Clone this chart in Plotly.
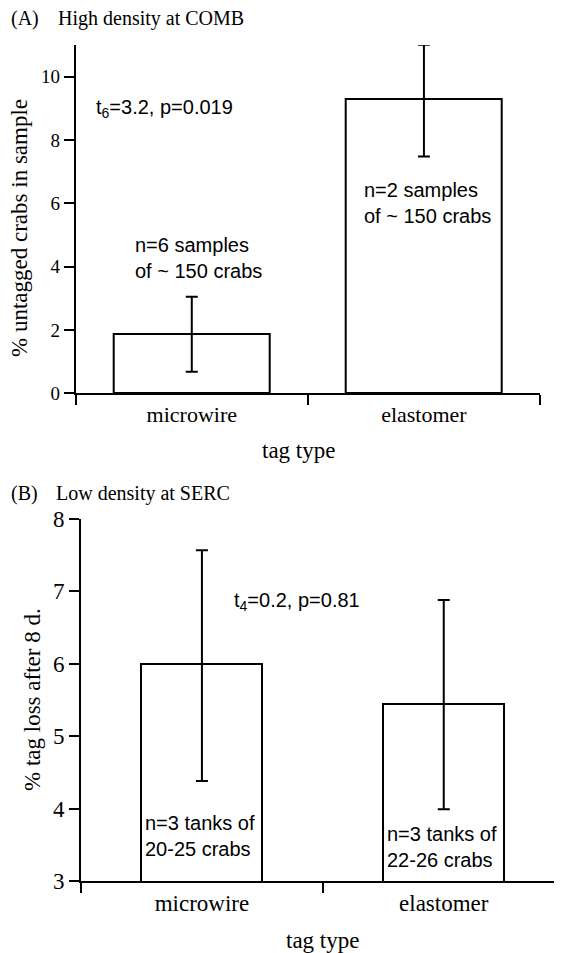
import plotly.graph_objects as go

# The page body adds an 8px margin, so the figure is drawn at (8, 8);
# reference pixel positions are converted to figure coordinates below.
OFF = 8
W, H = 562 - OFF, 953 - OFF

categories = ["microwire", "elastomer"]

# Panel A: % untagged crabs in sample
a_means = [1.88, 9.29]
a_err_plus = [1.17, 1.72]
a_err_minus = [1.20, 1.81]
a_yticks = [0, 2, 4, 6, 8, 10]

# Panel B: % tag loss after 8 d.
b_means = [6.0, 5.44]
b_err_plus = [1.57, 1.44]
b_err_minus = [1.62, 1.45]
b_yticks = [3, 4, 5, 6, 7, 8]

SERIF = "Liberation Serif, Times New Roman, serif"
SANS = "Liberation Sans, Arial, sans-serif"


def px(x, y):
    return (x - OFF) / W, 1 - (y - OFF) / H


fig = go.Figure()

fig.add_trace(go.Bar(
    x=categories, y=a_means, width=[0.672, 0.672],
    marker=dict(color="white", line=dict(color="black", width=2)),
    error_y=dict(type="data", symmetric=False, array=a_err_plus, arrayminus=a_err_minus,
                 color="black", thickness=2, width=6),
    xaxis="x", yaxis="y", showlegend=False, hoverinfo="skip",
))
fig.add_trace(go.Bar(
    x=categories, y=b_means, width=[0.5, 0.5],
    marker=dict(color="white", line=dict(color="black", width=2)),
    error_y=dict(type="data", symmetric=False, array=b_err_plus, arrayminus=b_err_minus,
                 color="black", thickness=2, width=6),
    xaxis="x2", yaxis="y2", showlegend=False, hoverinfo="skip",
))

axis_common = dict(showline=True, linecolor="black", linewidth=2, ticks="outside",
                   tickcolor="black", tickwidth=2, ticklen=10, showgrid=False,
                   zeroline=False, mirror=False, automargin=False)

xa0, ya0 = px(75.7, 393.3)
xa1, ya1 = px(540, 45)
xb0, yb0 = px(81, 881)
yb1 = px(0, 519)[1]

fig.update_layout(
    width=W, height=H, autosize=False,
    margin=dict(l=0, r=0, t=0, b=0, pad=0, autoexpand=False),
    paper_bgcolor="white", plot_bgcolor="white",
    xaxis=dict(domain=[xa0, xa1], anchor="y", type="category", tickson="boundaries",
               categoryorder="array", categoryarray=categories,
               range=[-0.5, 1.5], tickfont=dict(family=SERIF, size=22, color="black"),
               **axis_common),
    yaxis=dict(domain=[ya0, ya1], anchor="x", range=[0, 11], tickvals=a_yticks,
               tickfont=dict(family=SERIF, size=19, color="black"), **axis_common),
    xaxis2=dict(domain=[xb0, 1.0], anchor="y2", type="category", tickson="boundaries",
                categoryorder="array", categoryarray=categories,
                range=[-0.5, 1.489], tickfont=dict(family=SERIF, size=23, color="black"),
                **axis_common),
    yaxis2=dict(domain=[yb0, yb1], anchor="x2", range=[3, 8], tickvals=b_yticks,
                tickfont=dict(family=SERIF, size=23, color="black"), **axis_common),
    bargap=0,
)

annots = [
    # (text, x, y, font family, size, xanchor, angle)
    ("(A)", 10, 18, SERIF, 20, "left", 0),
    ("High density at COMB", 57, 18, SERIF, 20, "left", 0),
    ("(B)", 10, 494, SERIF, 20, "left", 0),
    ("Low density at SERC", 55, 494, SERIF, 20, "left", 0),
    ("% untagged crabs in sample", 19, 228, SERIF, 23, "center", -90),
    ("tag type", 298, 451, SERIF, 23, "center", 0),
    ("% tag loss after 8 d.", 32, 700, SERIF, 23, "center", -90),
    ("tag type", 322, 940, SERIF, 23, "center", 0),
    ("t<sub>6</sub>=3.2, p=0.019", 95, 108, SANS, 20, "left", 0),
    ("n=6 samples<br>of ~ 150 crabs", 134, 258, SANS, 20, "left", 0),
    ("n=2 samples<br>of ~ 150 crabs", 363, 203, SANS, 20, "left", 0),
    ("t<sub>4</sub>=0.2, p=0.81", 233, 601, SANS, 20, "left", 0),
    ("n=3 tanks of<br>20-25 crabs", 144, 836, SANS, 20, "left", 0),
    ("n=3 tanks of<br>22-26 crabs", 386, 847, SANS, 20, "left", 0),
]
for text, x, y, fam, size, xanchor, ang in annots:
    xp, yp = px(x, y)
    fig.add_annotation(text=text, x=xp, y=yp, xref="paper", yref="paper",
                       xanchor=xanchor, yanchor="middle", showarrow=False,
                       align="left", textangle=ang, borderpad=0,
                       font=dict(family=fam, size=size, color="black"))

fig.write_html("out.html")
